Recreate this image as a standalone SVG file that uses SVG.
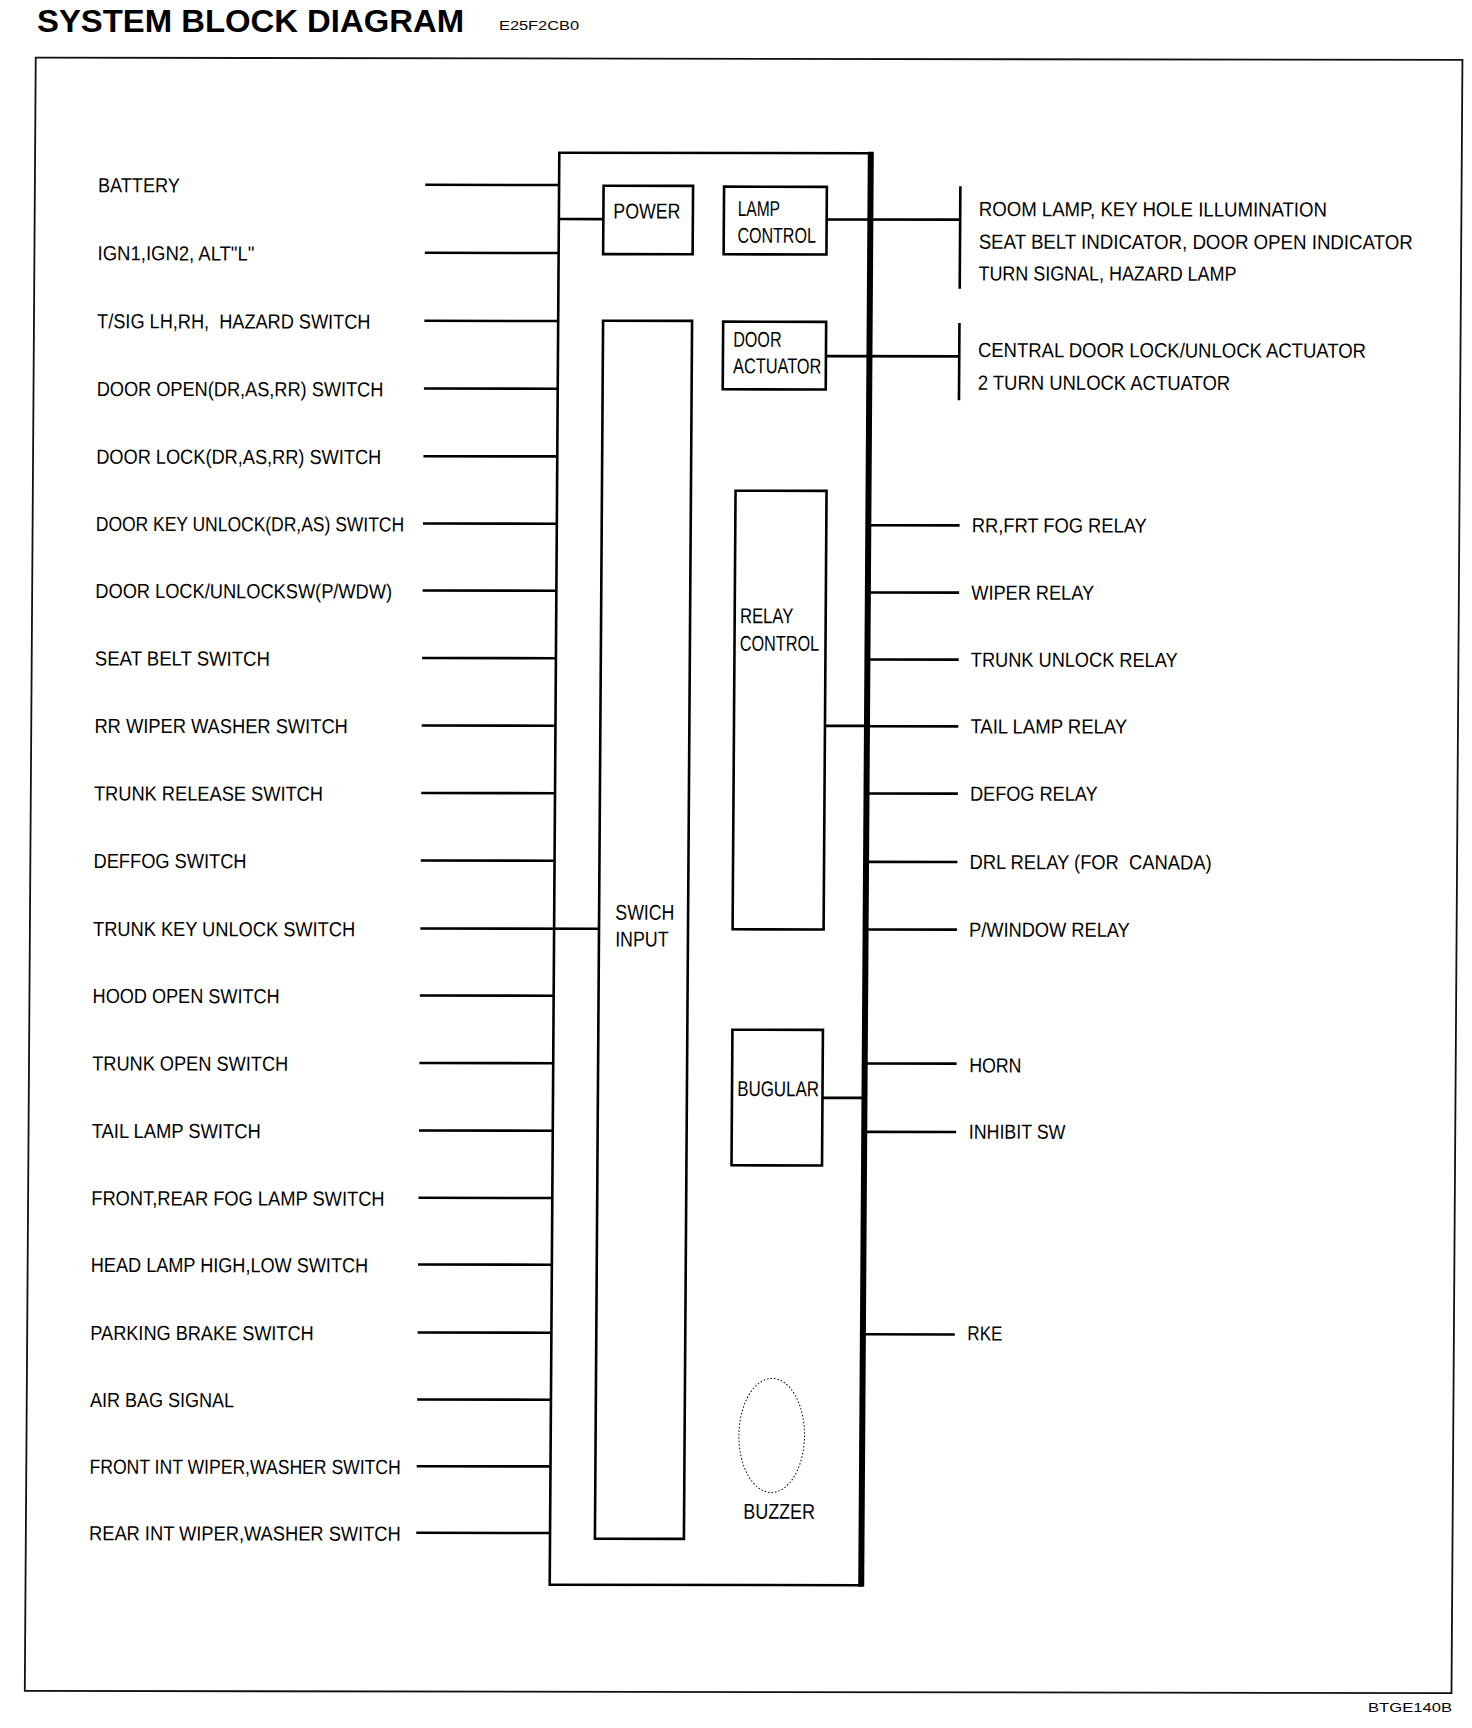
<svg xmlns="http://www.w3.org/2000/svg" width="1472" height="1728" viewBox="0 0 1472 1728">
<style>
text{font-family:"Liberation Sans",Arial,sans-serif;fill:#000;}
.lbl{font-size:20.5px;}
.box{fill:none;stroke:#000;stroke-width:2.6;}
.bl{font-size:21.5px;}
.wire{stroke:#000;stroke-width:2.6;fill:none;}
.frame{fill:none;stroke:#111;stroke-width:1.8;}
</style>
<rect width="1472" height="1728" fill="#fff"/>
<text x="37" y="32" font-size="31" font-weight="bold" textLength="427" lengthAdjust="spacingAndGlyphs">SYSTEM BLOCK DIAGRAM</text>
<text x="499" y="30" font-size="13" textLength="80" lengthAdjust="spacingAndGlyphs">E25F2CB0</text>
<text x="1368" y="1712" font-size="13" textLength="84" lengthAdjust="spacingAndGlyphs">BTGE140B</text>
<g transform="matrix(1,0.0016,-0.0067,1,5.83,-1.18)">
<rect class="frame" x="30.3" y="58.8" width="1426.7" height="1633.2"/>
<g id="connectors">
<path class="wire" d="M420.7 185.3H554.5M420.7 253.3H554.5M420.7 321.3H554.5M420.7 389H554.5M420.7 456.7H554.5M420.7 524H554.5M420.7 591H554.5M420.7 658.5H554.5M420.7 726H554.5M420.7 793.5H554.5M420.7 861H554.5M420.7 929H599.4M420.7 996H554.5M420.7 1063.5H554.5M420.7 1131H554.5M420.7 1198.3H554.5M420.7 1265H554.5M420.7 1333H554.5M420.7 1400H554.5M420.7 1466.7H554.5M420.7 1533.3H554.5"/>
<path class="wire" d="M554.5 219.3H599M822.3 219.3H955.8M822.5 356H955.8M823.9 725.7H865M824 1097.7H865"/>
<path class="wire" d="M865 525H957.3M865 592.3H957.3M865 659.3H957.3M865 726H957.3M865 793.3H957.3M865 861.7H957.3M865 929.3H957.3M865 1063.3H957.9M865 1131.7H957.9M865 1334.1H957.9"/>
<path class="wire" stroke-width="2" d="M955.8 186V288.3M955.8 322.7V400"/>
</g>
<g id="ecu">
<rect class="box" x="554.5" y="153" width="311" height="1432" stroke-width="3"/>
<line x1="866" y1="151.5" x2="866" y2="1586.5" stroke="#000" stroke-width="6"/>
</g>
<g id="power"><rect class="box" x="599" y="186" width="89.5" height="68.3"/><text class="bl" x="609" y="218.7" textLength="67" lengthAdjust="spacingAndGlyphs">POWER</text></g>
<g id="lamp-control"><rect class="box" x="719.5" y="186.7" width="102.8" height="67.6"/><text class="bl" x="733.3" y="216" textLength="42.3" lengthAdjust="spacingAndGlyphs">LAMP</text><text class="bl" x="733.3" y="242.7" textLength="78.3" lengthAdjust="spacingAndGlyphs">CONTROL</text></g>
<g id="door-actuator"><rect class="box" x="719.5" y="321.7" width="103" height="67.6"/><text class="bl" x="729.7" y="346.7" textLength="48.3" lengthAdjust="spacingAndGlyphs">DOOR</text><text class="bl" x="729.7" y="373.3" textLength="88.3" lengthAdjust="spacingAndGlyphs">ACTUATOR</text></g>
<g id="switch-input"><rect class="box" x="599.4" y="321" width="89" height="1218" stroke-width="2.2"/><text class="bl" x="615.7" y="920" textLength="59" lengthAdjust="spacingAndGlyphs">SWICH</text><text class="bl" x="615.7" y="946.7" textLength="53.3" lengthAdjust="spacingAndGlyphs">INPUT</text></g>
<g id="relay-control"><rect class="box" x="733" y="490.7" width="91" height="438.6" stroke-width="2.3"/><text class="bl" x="738.3" y="623.3" textLength="53.3" lengthAdjust="spacingAndGlyphs">RELAY</text><text class="bl" x="738.3" y="650.7" textLength="79.3" lengthAdjust="spacingAndGlyphs">CONTROL</text></g>
<g id="bugular"><rect class="box" x="733.5" y="1029.7" width="90.5" height="135.6"/><text class="bl" x="738.7" y="1096.1" textLength="81.7" lengthAdjust="spacingAndGlyphs">BUGULAR</text></g>
<g id="buzzer"><ellipse cx="775.5" cy="1435.4" rx="32.8" ry="57" fill="none" stroke="#000" stroke-width="1" stroke-dasharray="1.5 2"/><text class="bl" x="747.6" y="1518.8" textLength="71.7" lengthAdjust="spacingAndGlyphs">BUZZER</text></g>
<g id="inputs" class="lbl">
<g id="in-battery"><text class="lbl" x="93.5" y="193.3" textLength="81.7" lengthAdjust="spacingAndGlyphs">BATTERY</text></g>
<g id="in-ign"><text class="lbl" x="93.5" y="261.3" textLength="156.7" lengthAdjust="spacingAndGlyphs">IGN1,IGN2, ALT"L"</text></g>
<g id="in-tsig"><text class="lbl" x="93.5" y="329.3" textLength="273.3" lengthAdjust="spacingAndGlyphs" style="white-space:pre">T/SIG LH,RH,  HAZARD SWITCH</text></g>
<g id="in-door-open"><text class="lbl" x="93.5" y="397" textLength="286.7" lengthAdjust="spacingAndGlyphs">DOOR OPEN(DR,AS,RR) SWITCH</text></g>
<g id="in-door-lock"><text class="lbl" x="93.5" y="464.7" textLength="285" lengthAdjust="spacingAndGlyphs">DOOR LOCK(DR,AS,RR) SWITCH</text></g>
<g id="in-door-key"><text class="lbl" x="93.5" y="532" textLength="308.3" lengthAdjust="spacingAndGlyphs">DOOR KEY UNLOCK(DR,AS) SWITCH</text></g>
<g id="in-door-lock-unlock"><text class="lbl" x="93.5" y="599" textLength="296.7" lengthAdjust="spacingAndGlyphs">DOOR LOCK/UNLOCKSW(P/WDW)</text></g>
<g id="in-seat-belt"><text class="lbl" x="93.5" y="666.5" textLength="175" lengthAdjust="spacingAndGlyphs">SEAT BELT SWITCH</text></g>
<g id="in-rr-wiper"><text class="lbl" x="93.5" y="734" textLength="253.4" lengthAdjust="spacingAndGlyphs">RR WIPER WASHER SWITCH</text></g>
<g id="in-trunk-release"><text class="lbl" x="93.5" y="801.5" textLength="229" lengthAdjust="spacingAndGlyphs">TRUNK RELEASE SWITCH</text></g>
<g id="in-deffog"><text class="lbl" x="93.5" y="869" textLength="153" lengthAdjust="spacingAndGlyphs">DEFFOG SWITCH</text></g>
<g id="in-trunk-key"><text class="lbl" x="93.5" y="937" textLength="262" lengthAdjust="spacingAndGlyphs">TRUNK KEY UNLOCK SWITCH</text></g>
<g id="in-hood"><text class="lbl" x="93.5" y="1004" textLength="187" lengthAdjust="spacingAndGlyphs">HOOD OPEN SWITCH</text></g>
<g id="in-trunk-open"><text class="lbl" x="93.5" y="1071.5" textLength="196" lengthAdjust="spacingAndGlyphs">TRUNK OPEN SWITCH</text></g>
<g id="in-tail-lamp"><text class="lbl" x="93.5" y="1139" textLength="169" lengthAdjust="spacingAndGlyphs">TAIL LAMP SWITCH</text></g>
<g id="in-fog"><text class="lbl" x="93.5" y="1206.3" textLength="293.3" lengthAdjust="spacingAndGlyphs">FRONT,REAR FOG LAMP SWITCH</text></g>
<g id="in-head-lamp"><text class="lbl" x="93.5" y="1273" textLength="277.3" lengthAdjust="spacingAndGlyphs">HEAD LAMP HIGH,LOW SWITCH</text></g>
<g id="in-parking"><text class="lbl" x="93.5" y="1341" textLength="223.3" lengthAdjust="spacingAndGlyphs">PARKING BRAKE SWITCH</text></g>
<g id="in-airbag"><text class="lbl" x="93.5" y="1408" textLength="144" lengthAdjust="spacingAndGlyphs">AIR BAG SIGNAL</text></g>
<g id="in-front-wiper"><text class="lbl" x="93.5" y="1474.7" textLength="311.3" lengthAdjust="spacingAndGlyphs">FRONT INT WIPER,WASHER SWITCH</text></g>
<g id="in-rear-wiper"><text class="lbl" x="93.5" y="1541.3" textLength="311.7" lengthAdjust="spacingAndGlyphs">REAR INT WIPER,WASHER SWITCH</text></g>
</g>
<g id="outputs">
<g id="out-lamps"><text class="lbl" x="974.5" y="215.7" textLength="348" lengthAdjust="spacingAndGlyphs">ROOM LAMP, KEY HOLE ILLUMINATION</text><text class="lbl" x="974.5" y="248.3" textLength="434" lengthAdjust="spacingAndGlyphs">SEAT BELT INDICATOR, DOOR OPEN INDICATOR</text><text class="lbl" x="974.5" y="280" textLength="258" lengthAdjust="spacingAndGlyphs">TURN SIGNAL, HAZARD LAMP</text></g>
<g id="out-actuators"><text class="lbl" x="974.5" y="356.7" textLength="388" lengthAdjust="spacingAndGlyphs">CENTRAL DOOR LOCK/UNLOCK ACTUATOR</text><text class="lbl" x="974.5" y="389.3" textLength="252.4" lengthAdjust="spacingAndGlyphs">2 TURN UNLOCK ACTUATOR</text></g>
<g id="out-fog"><text class="lbl" x="969.5" y="532" textLength="175" lengthAdjust="spacingAndGlyphs">RR,FRT FOG RELAY</text></g>
<g id="out-wiper"><text class="lbl" x="969.5" y="599.3" textLength="122.7" lengthAdjust="spacingAndGlyphs">WIPER RELAY</text></g>
<g id="out-trunk"><text class="lbl" x="969.5" y="666.3" textLength="206.7" lengthAdjust="spacingAndGlyphs">TRUNK UNLOCK RELAY</text></g>
<g id="out-tail"><text class="lbl" x="969.5" y="733" textLength="156.7" lengthAdjust="spacingAndGlyphs">TAIL LAMP RELAY</text></g>
<g id="out-defog"><text class="lbl" x="969.5" y="800.3" textLength="127.7" lengthAdjust="spacingAndGlyphs">DEFOG RELAY</text></g>
<g id="out-drl"><text class="lbl" x="969.5" y="868.7" textLength="242" lengthAdjust="spacingAndGlyphs" style="white-space:pre">DRL RELAY (FOR  CANADA)</text></g>
<g id="out-pwindow"><text class="lbl" x="969.5" y="936.3" textLength="160.7" lengthAdjust="spacingAndGlyphs">P/WINDOW RELAY</text></g>
<g id="out-horn"><text class="lbl" x="970.5" y="1072" textLength="52.3" lengthAdjust="spacingAndGlyphs">HORN</text></g>
<g id="out-inhibit"><text class="lbl" x="970.5" y="1138.4" textLength="96.7" lengthAdjust="spacingAndGlyphs">INHIBIT SW</text></g>
<g id="out-rke"><text class="lbl" x="970.5" y="1340" textLength="35" lengthAdjust="spacingAndGlyphs">RKE</text></g>
</g>
</g>
</svg>
